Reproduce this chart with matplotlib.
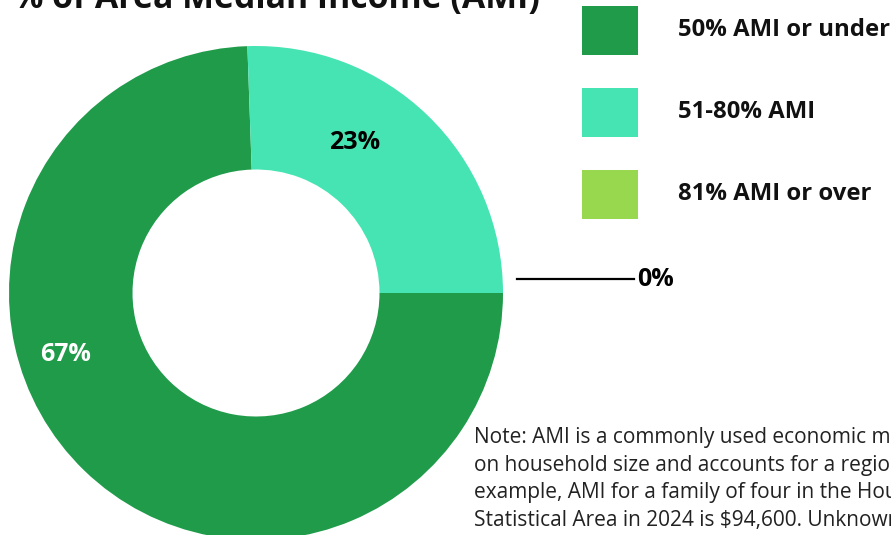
import numpy as np
import matplotlib
matplotlib.use("Agg")
from matplotlib import pyplot as plt
from matplotlib.patches import Rectangle

categories = ['50% AMI or under', '51-80% AMI', '81% AMI or over']
shares = [67, 23, 0]
pct_labels = ['67%', '23%', '0%']
colors = ['#1f9b4a', '#45e4b2', '#98d84e']

title = '% of Area Median Income (AMI)'
note = ("Note: AMI is a commonly used economic measure that is based\n"
        "on household size and accounts for a region's cost of living. For\n"
        "example, AMI for a family of four in the Houston-The Woodlands-Sugar Land\n"
        "Statistical Area in 2024 is $94,600. Unknown AMI households are excluded.")

plt.rcParams['font.family'] = ['Open Sans', 'DejaVu Sans']

W, H = 891, 535
fig = plt.figure(figsize=(W / 100, H / 100), dpi=100)

# donut axes, positioned in pixels (centre 256,293 from top, radius 247)
cx, cy, r = 256, 293, 247
ax = fig.add_axes([(cx - r) / W, (H - cy - r) / H, 2 * r / W, 2 * r / H])
wedges, _ = ax.pie(shares, colors=colors, startangle=0, counterclock=False,
                   radius=1, wedgeprops=dict(width=0.5, linewidth=0))
ax.set_xlim(-1, 1)
ax.set_ylim(-1, 1)
ax.set_aspect('equal')
ax.axis('off')

# percentage labels (angle in degrees, radius in axes units)
label_pos = [(198, 0.81, 'white'), (56.7, 0.73, 'black')]
for (ang, rad, col), txt in zip(label_pos, pct_labels[:2]):
    a = np.deg2rad(ang)
    ax.text(rad * np.cos(a), rad * np.sin(a), txt, ha='center', va='center',
            fontsize=18, fontweight='bold', color=col)

# leader line for the empty slice
w = wedges[2]
a = np.deg2rad(w.theta1)
y0 = np.sin(a) + 14 / r
ax.plot([1.058, 1.53], [y0, y0], color='black', lw=1.6, clip_on=False)
ax.text(1.545, y0, pct_labels[2], ha='left', va='center', fontsize=18,
        fontweight='bold', color='black', clip_on=False)

# legend boxes
for i, (lab, col) in enumerate(zip(categories, colors)):
    top = 6 + i * 82
    fig.add_artist(Rectangle((582 / W, (H - top - 49) / H), 56 / W, 49 / H,
                             transform=fig.transFigure, color=col, lw=0))
    fig.text(678 / W, (H - top - 24.5) / H, lab, ha='left', va='center',
             fontsize=17.2, fontweight='bold', color='#111111')

fig.text(13 / W, (H - 8) / H, title, ha='left', va='baseline',
         fontsize=24.4, fontweight='bold', color='#111111')

fig.text(474 / W, (H - 427) / H, note, ha='left', va='top', fontsize=15,
         color='#222222', linespacing=1.42)

fig.savefig('out.png', dpi=100)
